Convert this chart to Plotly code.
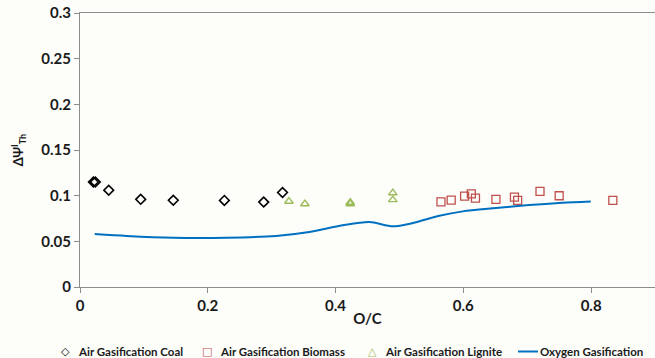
import plotly.graph_objects as go

coal_x = [0.021, 0.024, 0.045, 0.095, 0.146, 0.226, 0.2875, 0.317]
coal_y = [0.115, 0.115, 0.106, 0.096, 0.095, 0.0948, 0.093, 0.1035]

biomass_x = [0.565, 0.581, 0.602, 0.6125, 0.619, 0.651, 0.680, 0.685, 0.720, 0.750, 0.834]
biomass_y = [0.0933, 0.0952, 0.0996, 0.102, 0.0974, 0.0959, 0.0985, 0.0948, 0.1046, 0.0999, 0.0948]

lignite_x = [0.327, 0.352, 0.423, 0.423, 0.4896, 0.4896]
lignite_y = [0.0937, 0.091, 0.0926, 0.091, 0.103, 0.0955]

oxy_x = [0.023, 0.073, 0.146, 0.229, 0.307, 0.359, 0.411, 0.453, 0.4896, 0.521, 0.5625, 0.599, 0.651, 0.703, 0.755, 0.7995]
oxy_y = [0.058, 0.0559, 0.054, 0.054, 0.0559, 0.0602, 0.0675, 0.0711, 0.0664, 0.070, 0.078, 0.0828, 0.0864, 0.0897, 0.0922, 0.0937]

series_names = ["Air Gasification Coal", "Air Gasification Biomass", "Air Gasification Lignite", "Oxygen Gasification"]
series_colors = ["#000000", "#C0504D", "#9BBB59", "#0070C0"]

FONT = "Lato"
W, H = 655, 358
ML, MR, MT, MB = 80, 0, 13, 71
PW = W - ML - MR
PH = H - MT - MB


def px(x):
    return (x - ML) / PW


def py(y):
    return (H - MB - y) / PH


fig = go.Figure()
fig.add_trace(go.Scatter(x=coal_x, y=coal_y, mode="markers", name=series_names[0],
                         marker=dict(symbol="diamond-open", size=7.5, color=series_colors[0], line=dict(width=1.6))))
fig.add_trace(go.Scatter(x=biomass_x, y=biomass_y, mode="markers", name=series_names[1],
                         marker=dict(symbol="square-open", size=8, color=series_colors[1], line=dict(width=1.3))))
fig.add_trace(go.Scatter(x=lignite_x, y=lignite_y, mode="markers", name=series_names[2],
                         marker=dict(symbol="triangle-up-open", size=7.5, color=series_colors[2], line=dict(width=1.4))))
fig.add_trace(go.Scatter(x=oxy_x, y=oxy_y, mode="lines", name=series_names[3],
                         line=dict(color=series_colors[3], width=2, shape="spline", smoothing=0.8)))

# custom legend (compact, single row like the reference)
leg_y = py(351.5)
sym = ["◇", "□", "△"]
sym_x = [65, 207, 372]
text_x = [76, 218, 383]
LEG_SIZE = 11.5
for i in range(3):
    fig.add_annotation(x=px(sym_x[i]), y=leg_y, xref="paper", yref="paper", text=sym[i],
                       showarrow=False, xanchor="center", yanchor="middle",
                       font=dict(size=11, color=series_colors[i], family="DejaVu Sans"))
    fig.add_annotation(x=px(text_x[i]), y=leg_y, xref="paper", yref="paper", text=series_names[i],
                       showarrow=False, xanchor="left", yanchor="middle",
                       font=dict(size=LEG_SIZE, color="#1a1a1a", family=FONT, weight="bold"))
fig.add_shape(type="line", xref="paper", yref="paper", x0=px(518), x1=px(538), y0=leg_y, y1=leg_y,
              line=dict(color=series_colors[3], width=2))
fig.add_annotation(x=px(538), y=leg_y, xref="paper", yref="paper", text=series_names[3],
                   showarrow=False, xanchor="left", yanchor="middle",
                   font=dict(size=LEG_SIZE, color="#1a1a1a", family=FONT, weight="bold"))

fig.update_layout(
    width=W, height=H,
    margin=dict(l=ML, r=MR, t=MT, b=MB),
    paper_bgcolor="#fdfdfa", plot_bgcolor="#fdfdfa",
    font=dict(family=FONT, size=15, color="#1a1a1a", weight="bold"),
    showlegend=False,
)
fig.update_xaxes(range=[0, 0.9], tickvals=[0, 0.2, 0.4, 0.6, 0.8], ticktext=["0", "0.2", "0.4", "0.6", "0.8"],
                 showgrid=False, zeroline=False, showline=True, linecolor="#8c8c8c", linewidth=1,
                 mirror=True, ticks="outside", ticklen=5, tickcolor="#8c8c8c", automargin=False,
                 title=dict(text="O/C", font=dict(size=15, weight="bold"), standoff=0))
fig.update_yaxes(range=[0, 0.3], tickvals=[0, 0.05, 0.1, 0.15, 0.2, 0.25, 0.3],
                 ticktext=["0", "0.05", "0.1", "0.15", "0.2", "0.25", "0.3"],
                 showgrid=False, zeroline=False, showline=True, linecolor="#8c8c8c", linewidth=1,
                 ticks="outside", ticklen=5, tickcolor="#8c8c8c", automargin=False,
                 title=dict(text="ΔΨ<sup>I</sup><sub>Th</sub>", font=dict(size=13, weight="bold"), standoff=14))

fig.write_html("out.html", config={"displayModeBar": False},
               post_script="document.body.style.margin='0';document.body.style.overflow='hidden';")
